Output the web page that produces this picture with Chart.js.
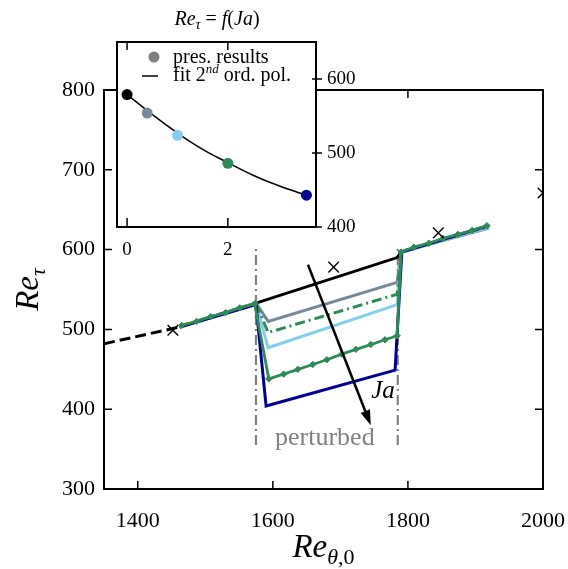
<!DOCTYPE html>
<html>
<head>
<meta charset="utf-8">
<script src="https://cdn.jsdelivr.net/npm/chart.js@4.4.1/dist/chart.umd.min.js"></script>
<style>
  html, body { margin: 0; padding: 0; background: #fff; }
  #wrap { position: relative; width: 568px; height: 569px; }
  #main { position: absolute; left: 0; top: 0; }
  #inset { position: absolute; left: 100px; top: 0; }
</style>
</head>
<body>
<div id="wrap">
  <canvas id="main" width="568" height="569"></canvas>
  <canvas id="inset" width="280" height="270"></canvas>
</div>
<script>
// ---------- main panel: Re_tau versus Re_theta,0 ----------
const xTicks = [1400, 1600, 1800, 2000];
const yTicks = [300, 400, 500, 600, 700, 800];

// unperturbed run (solid) and its upstream extrapolation (dashed)
const refX = [1462, 1575, 1784, 1790, 1920];
const refY = [503, 533, 590, 597, 630];
const extrapX = [1350, 1462];
const extrapY = [482, 503];

// reference correlation points (crosses)
const crossX = [1452, 1690, 1845, 2000];
const crossY = [499, 578, 621, 671];

// perturbed runs, increasing Ja
const slateX = [1462, 1575, 1593, 1784, 1790, 1920];
const slateY = [503, 533, 510, 559, 597, 627];
const skyX = [1462, 1575, 1593, 1784, 1790, 1920];
const skyY = [503, 533, 477, 531, 597, 628];
const dashX = [1462, 1575, 1593, 1784, 1790, 1920];
const dashY = [504, 533, 496, 544, 598, 629];
const diamondX = [1465, 1487, 1508, 1530, 1551, 1573, 1594, 1616, 1637, 1659, 1680, 1702, 1723, 1745, 1766, 1784, 1790, 1809, 1831, 1852, 1874, 1895, 1917];
const diamondY = [505, 510, 516, 521, 527, 532, 438, 444, 450, 456, 462, 469, 475, 481, 487, 492, 597, 603, 608, 614, 619, 624, 630];
const navyX = [1462, 1575, 1590, 1781, 1791, 1920];
const navyY = [503, 531, 404, 449, 597, 630];

// extent of the perturbed zone
const zoneX = [1575, 1785];
const zoneY = [355, 602];

// trend arrow (direction of increasing Ja) and labels
const arrowFrom = [1652, 581];
const arrowTo = [1745, 380];
const jaLabelPos = [1763, 424];
const zoneLabelPos = [1677, 365];

// ---------- inset: Re_tau = f(Ja) ----------
const jaValues = [0, 0.4, 1, 2, 3.56];
const retauValues = [579, 554, 524, 486, 443];
const fitJa = [0, 0.5, 1, 1.5, 2, 2.5, 3, 3.56];
const fitRetau = [579, 552, 527, 505, 487, 470, 456, 443];
const insetXTicks = [0, 2];
const insetYTicks = [400, 500, 600];

const C_NAVY = '#00008b', C_GREEN = '#2e8b57', C_SKY = '#87ceeb', C_SLATE = '#778899', C_GREY = '#808080';
const SERIF = "'Liberation Serif', 'DejaVu Serif', serif";

const pts = (xs, ys) => xs.map((v, i) => ({ x: v, y: ys[i] }));

function segFont(s) { return (s.i ? 'italic ' : '') + s.size + 'px ' + SERIF; }
// draws a run of text pieces (italic / sub- / superscript) centred or left-aligned on (x, y)
function richText(ctx, segs, x, y, align) {
  let w = 0;
  for (const s of segs) { ctx.font = segFont(s); s.w = ctx.measureText(s.t).width; w += s.w; }
  let cx = align === 'center' ? x - w / 2 : x;
  ctx.textAlign = 'left';
  ctx.textBaseline = 'alphabetic';
  for (const s of segs) { ctx.font = segFont(s); ctx.fillText(s.t, cx, y + (s.dy || 0)); cx += s.w; }
}

function seg(t, size, i, dy) { return { t, size, i, dy }; }

const mainDecor = {
  id: 'mainDecor',
  afterDatasetsDraw(chart) {
    const { ctx, scales: { x, y } } = chart;
    ctx.save();
    // arrow
    const x0 = x.getPixelForValue(arrowFrom[0]), y0 = y.getPixelForValue(arrowFrom[1]);
    const x1 = x.getPixelForValue(arrowTo[0]), y1 = y.getPixelForValue(arrowTo[1]);
    const ang = Math.atan2(y1 - y0, x1 - x0);
    const headL = 15, headW = 5;
    const bx = x1 - headL * Math.cos(ang), by = y1 - headL * Math.sin(ang);
    ctx.strokeStyle = '#000'; ctx.fillStyle = '#000'; ctx.lineWidth = 2.5;
    ctx.beginPath(); ctx.moveTo(x0, y0); ctx.lineTo(bx, by); ctx.stroke();
    ctx.beginPath();
    ctx.moveTo(x1, y1);
    ctx.lineTo(bx + headW * Math.sin(ang), by - headW * Math.cos(ang));
    ctx.lineTo(bx - headW * Math.sin(ang), by + headW * Math.cos(ang));
    ctx.closePath(); ctx.fill();
    // labels
    ctx.fillStyle = '#000';
    richText(ctx, [seg('Ja', 25, true)], x.getPixelForValue(jaLabelPos[0]), y.getPixelForValue(jaLabelPos[1]) + 8, 'center');
    ctx.fillStyle = C_GREY;
    richText(ctx, [seg('perturbed', 26, false)], x.getPixelForValue(zoneLabelPos[0]), y.getPixelForValue(zoneLabelPos[1]) + 8, 'center');
    ctx.restore();
  },
  afterDraw(chart) {
    const { ctx, chartArea: a, scales: { x, y } } = chart;
    ctx.save();
    ctx.strokeStyle = '#000';
    ctx.lineWidth = 2;
    ctx.strokeRect(a.left, a.top, a.right - a.left, a.bottom - a.top);
    ctx.lineWidth = 1.5;
    ctx.beginPath();
    for (const v of xTicks) {
      const p = x.getPixelForValue(v);
      ctx.moveTo(p, a.bottom); ctx.lineTo(p, a.bottom - 8);
      ctx.moveTo(p, a.top); ctx.lineTo(p, a.top + 8);
    }
    for (const v of yTicks) {
      const p = y.getPixelForValue(v);
      ctx.moveTo(a.left, p); ctx.lineTo(a.left + 8, p);
      ctx.moveTo(a.right, p); ctx.lineTo(a.right - 8, p);
    }
    ctx.stroke();
    // axis titles
    ctx.fillStyle = '#000';
    richText(ctx, [seg('Re', 33, true), seg('θ', 22, true, 7), seg(',0', 22, false, 7)], (a.left + a.right) / 2, 557, 'center');
    ctx.translate(38, (a.top + a.bottom) / 2);
    ctx.rotate(-Math.PI / 2);
    richText(ctx, [seg('Re', 33, true), seg('τ', 22, true, 7)], 0, 0, 'center');
    ctx.restore();
  }
};

new Chart(document.getElementById('main'), {
  type: 'line',
  data: {
    datasets: [
      { data: pts(zoneX.slice(0, 1).concat(zoneX.slice(0, 1)), zoneY), borderColor: C_GREY, borderWidth: 2.2, borderDash: [10, 4, 2, 4], pointRadius: 0, order: 9 },
      { data: pts(zoneX.slice(1).concat(zoneX.slice(1)), zoneY), borderColor: C_GREY, borderWidth: 2.2, borderDash: [10, 4, 2, 4], pointRadius: 0, order: 9 },
      { data: pts(extrapX, extrapY), borderColor: '#000', borderWidth: 3, borderDash: [11, 5], pointRadius: 0, order: 8 },
      { data: pts(refX, refY), borderColor: '#000', borderWidth: 3, pointRadius: 0, order: 7 },
      { data: pts(slateX, slateY), borderColor: C_SLATE, borderWidth: 3, pointRadius: 0, order: 6 },
      { data: pts(skyX, skyY), borderColor: C_SKY, borderWidth: 3, pointRadius: 0, order: 5 },
      { data: pts(dashX, dashY), borderColor: C_GREEN, borderWidth: 3, borderDash: [10, 4, 2, 4], pointRadius: 0, order: 4 },
      { data: pts(navyX, navyY), borderColor: C_NAVY, borderWidth: 3, pointRadius: 0, order: 3 },
      { data: pts(diamondX, diamondY), borderColor: C_GREEN, borderWidth: 2.8, pointStyle: 'rectRot', pointRadius: 3.2,
        pointBackgroundColor: C_GREEN, pointBorderColor: C_GREEN, pointBorderWidth: 1, order: 2 },
      { data: pts(crossX, crossY), showLine: false, pointStyle: 'crossRot', pointRadius: 7.5, pointBorderColor: '#000',
        pointBorderWidth: 1.4, order: 1 }
    ]
  },
  options: {
    responsive: false,
    animation: false,
    events: [],
    layout: { padding: { left: 0, top: 90, right: 25, bottom: 0 } },
    plugins: { legend: { display: false }, tooltip: { enabled: false } },
    scales: {
      x: {
        type: 'linear', min: 1350, max: 2000,
        afterBuildTicks: s => { s.ticks = xTicks.map(v => ({ value: v })); },
        afterFit: s => { s.height = 80; s.paddingLeft = 0; s.paddingRight = 0; },
        grid: { display: false, drawTicks: false },
        border: { display: false },
        ticks: { padding: 19, color: '#000', font: { family: SERIF, size: 22 }, callback: v => String(v) }
      },
      y: {
        type: 'linear', min: 300, max: 800,
        afterBuildTicks: s => { s.ticks = yTicks.map(v => ({ value: v })); },
        afterFit: s => { s.width = 104; s.paddingTop = 0; s.paddingBottom = 0; },
        grid: { display: false, drawTicks: false },
        border: { display: false },
        ticks: { padding: 9, color: '#000', font: { family: SERIF, size: 22 }, callback: v => String(v) }
      }
    }
  },
  plugins: [mainDecor]
});

// ---------- inset ----------
const insetDecor = {
  id: 'insetDecor',
  beforeDraw(chart) {
    const { ctx, chartArea: a } = chart;
    ctx.save();
    ctx.fillStyle = '#fff';
    ctx.fillRect(a.left - 1, a.top - 1, a.right - a.left + 2, a.bottom - a.top + 2);
    ctx.restore();
  },
  afterDraw(chart) {
    const { ctx, chartArea: a, scales: { x, y } } = chart;
    ctx.save();
    ctx.strokeStyle = '#000';
    ctx.lineWidth = 2;
    ctx.strokeRect(a.left, a.top, a.right - a.left, a.bottom - a.top);
    ctx.lineWidth = 1.5;
    ctx.beginPath();
    for (const v of insetXTicks) {
      const p = x.getPixelForValue(v);
      ctx.moveTo(p, a.bottom); ctx.lineTo(p, a.bottom - 9);
      ctx.moveTo(p, a.top); ctx.lineTo(p, a.top + 8);
    }
    for (const v of insetYTicks) {
      const p = y.getPixelForValue(v);
      ctx.moveTo(a.right - 4, p); ctx.lineTo(a.right + 6, p);
    }
    ctx.stroke();
    // legend
    ctx.fillStyle = C_GREY;
    ctx.beginPath(); ctx.arc(a.left + 37, 57, 5.5, 0, Math.PI * 2); ctx.fill();
    ctx.strokeStyle = '#000'; ctx.lineWidth = 1.5;
    ctx.beginPath(); ctx.moveTo(a.left + 25, 76); ctx.lineTo(a.left + 41, 76); ctx.stroke();
    ctx.fillStyle = '#000';
    richText(ctx, [seg('pres. results', 20, false)], a.left + 56, 63, 'left');
    richText(ctx, [seg('fit 2', 20, false), seg('nd', 13, true, -8), seg(' ord. pol.', 20, false)], a.left + 56, 81, 'left');
    // title
    richText(ctx, [seg('Re', 20, true), seg('τ', 14, true, 4), seg(' = ', 20, false), seg('f', 20, true),
                   seg('(', 20, false), seg('Ja', 20, true), seg(')', 20, false)], 117, 25, 'center');
    ctx.restore();
  }
};

new Chart(document.getElementById('inset'), {
  type: 'line',
  data: {
    datasets: [
      { data: pts(jaValues, retauValues), showLine: false, pointRadius: 5.5, pointBorderWidth: 0,
        pointBackgroundColor: ['#000', C_SLATE, C_SKY, C_GREEN, C_NAVY], order: 0 },
      { data: pts(fitJa, fitRetau), borderColor: '#000', borderWidth: 1.5, tension: 0.4, pointRadius: 0, order: 1 }
    ]
  },
  options: {
    responsive: false,
    animation: false,
    events: [],
    layout: { padding: { left: 17, top: 42, right: 0, bottom: 0 } },
    plugins: { legend: { display: false }, tooltip: { enabled: false } },
    scales: {
      x: {
        type: 'linear', min: -0.2, max: 3.75,
        afterBuildTicks: s => { s.ticks = insetXTicks.map(v => ({ value: v })); },
        afterFit: s => { s.height = 43; s.paddingLeft = 0; s.paddingRight = 0; },
        grid: { display: false, drawTicks: false },
        border: { display: false },
        ticks: { padding: 12, color: '#000', font: { family: SERIF, size: 19 }, callback: v => String(v) }
      },
      y: {
        type: 'linear', position: 'right', min: 400, max: 650,
        afterBuildTicks: s => { s.ticks = insetYTicks.map(v => ({ value: v })); },
        afterFit: s => { s.width = 64; s.paddingTop = 0; s.paddingBottom = 0; },
        grid: { display: false, drawTicks: false },
        border: { display: false },
        ticks: { padding: 11, color: '#000', font: { family: SERIF, size: 19 }, callback: v => String(v) }
      }
    }
  },
  plugins: [insetDecor]
});
</script>
</body>
</html>
